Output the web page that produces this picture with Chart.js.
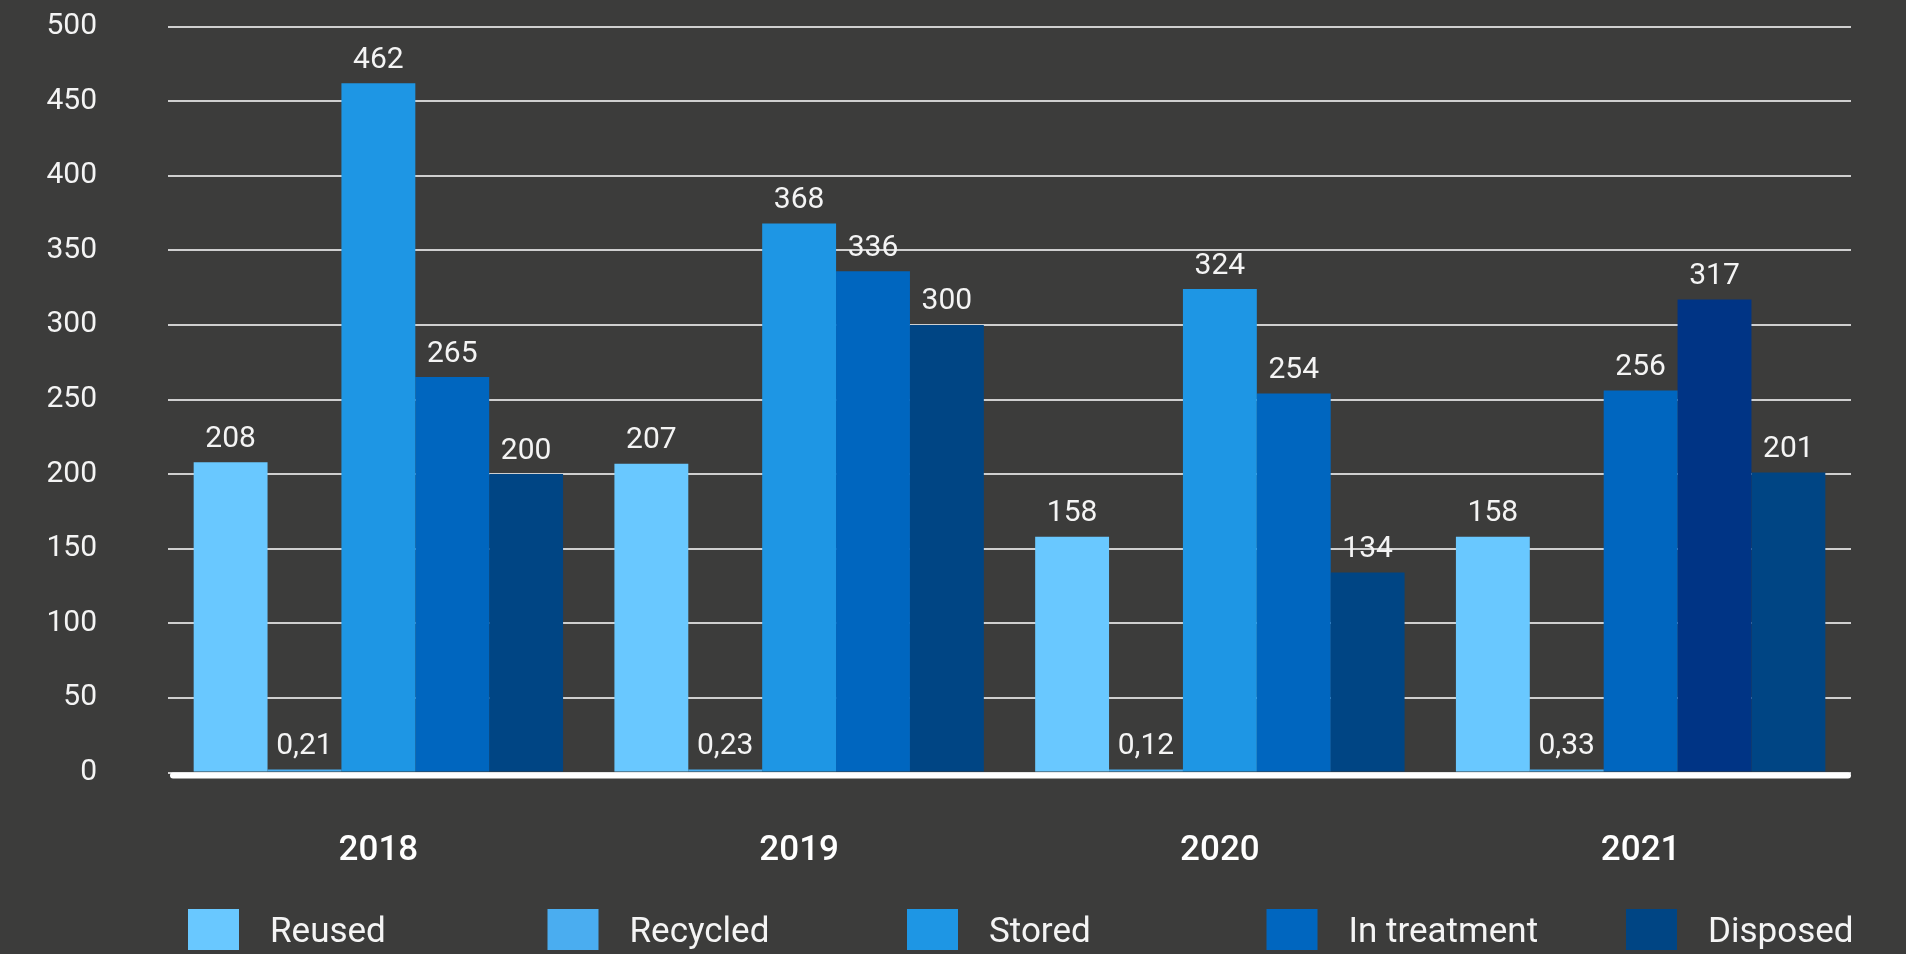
<!DOCTYPE html>
<html>
<head>
<meta charset="utf-8">
<script src="https://cdn.jsdelivr.net/npm/chart.js@4"></script>
<style>
  html, body { margin: 0; padding: 0; background: #3c3c3b; }
  #wrap { width: 1906px; height: 954px; position: relative; }
</style>
</head>
<body>
<div id="wrap"><canvas id="chart"></canvas></div>
<script>
// Waste quantities per year and treatment route
const years = ['2018', '2019', '2020', '2021'];
const seriesNames = ['Reused', 'Recycled', 'Stored', 'In treatment', 'Disposed'];
const reused = [208, 207, 158, 158];
const recycled = [0.21, 0.23, 0.12, 0.33];
const stored = [462, 368, 324, 256];
const inTreatment = [265, 336, 254, 317];
const disposed = [200, 300, 134, 201];

// Palette (legend colours, plus the per-bar colours used in the 2021 group)
const legendColors = ['#69c8ff', '#4aadf0', '#1e96e4', '#0066bf', '#004584'];
const barColors = [
  ['#69c8ff', '#69c8ff', '#69c8ff', '#69c8ff'],
  ['#4aadf0', '#4aadf0', '#4aadf0', '#4aadf0'],
  ['#1e96e4', '#1e96e4', '#1e96e4', '#0066bf'],
  ['#0066bf', '#0066bf', '#0066bf', '#003485'],
  ['#004584', '#004584', '#004584', '#004584']
];

const FONT = 'Roboto, "Open Sans", sans-serif';

// Value printed above each bar, with a decimal comma
const valueLabels = {
  id: 'valueLabels',
  afterDatasetsDraw(chart) {
    const ctx = chart.ctx;
    ctx.save();
    ctx.fillStyle = '#f4f4f4';
    ctx.font = '30px ' + FONT;
    ctx.textAlign = 'center';
    ctx.textBaseline = 'bottom';
    chart.data.datasets.forEach((ds, di) => {
      const meta = chart.getDatasetMeta(di);
      meta.data.forEach((bar, i) => {
        const txt = String(ds.data[i]).replace('.', ',');
        ctx.fillText(txt, bar.x, bar.y - 8);
      });
    });
    ctx.restore();
  }
};

// Thick white rounded zero line over the bar feet
const baseLine = {
  id: 'baseLine',
  afterDatasetsDraw(chart) {
    const { ctx, chartArea, scales } = chart;
    const y = scales.y.getPixelForValue(0) + 3;
    ctx.save();
    ctx.strokeStyle = '#ffffff';
    ctx.lineWidth = 6;
    ctx.lineCap = 'round';
    ctx.beginPath();
    ctx.moveTo(chartArea.left + 5, y);
    ctx.lineTo(chartArea.right - 3, y);
    ctx.stroke();
    ctx.restore();
  }
};

// Evenly spaced legend row along the bottom edge
const spacedLegend = {
  id: 'spacedLegend',
  afterDraw(chart, args, opts) {
    const ctx = chart.ctx;
    ctx.save();
    ctx.font = opts.font;
    ctx.textBaseline = 'alphabetic';
    ctx.textAlign = 'left';
    chart.data.datasets.forEach((ds, i) => {
      const x = opts.startX + i * opts.step;
      ctx.fillStyle = legendColors[i];
      ctx.fillRect(x, opts.boxTop, opts.boxW, opts.boxH);
      ctx.fillStyle = '#f4f4f4';
      ctx.fillText(ds.label, x + opts.textGap, opts.textBaseline);
    });
    ctx.restore();
  }
};

const seriesValues = [reused, recycled, stored, inTreatment, disposed];

new Chart(document.getElementById('chart'), {
  type: 'bar',
  data: {
    labels: years,
    datasets: seriesNames.map((name, i) => ({
      label: name,
      data: seriesValues[i],
      backgroundColor: barColors[i],
      borderWidth: 0,
      minBarLength: 3,
      categoryPercentage: 0.878,
      barPercentage: 1.0
    }))
  },
  options: {
    responsive: true,
    maintainAspectRatio: false,
    animation: false,
    layout: { padding: { left: 0, right: 55, top: 26.5, bottom: 0 } },
    plugins: {
      legend: { display: false },
      tooltip: { enabled: false },
      spacedLegend: {
        font: '35px ' + FONT,
        startX: 188, step: 359.5,
        boxW: 51, boxH: 41, boxTop: 909,
        textGap: 82, textBaseline: 942
      }
    },
    scales: {
      x: {
        grid: { display: false },
        border: { display: false },
        ticks: {
          color: '#ffffff',
          font: { family: FONT, size: 35, weight: '500' },
          padding: 50
        },
        afterFit(scale) { scale.height = 181.5; }
      },
      y: {
        min: 0,
        max: 500,
        ticks: {
          stepSize: 50,
          color: '#f4f4f4',
          font: { family: FONT, size: 30 },
          padding: 71
        },
        grid: {
          color: '#cfcfcf',
          lineWidth: 2,
          drawTicks: false
        },
        border: { display: false },
        afterFit(scale) {
          scale.width = 168;
          scale.paddingTop = 0;
          scale.paddingBottom = 0;
        }
      }
    }
  },
  plugins: [valueLabels, baseLine, spacedLegend]
});
</script>
</body>
</html>
